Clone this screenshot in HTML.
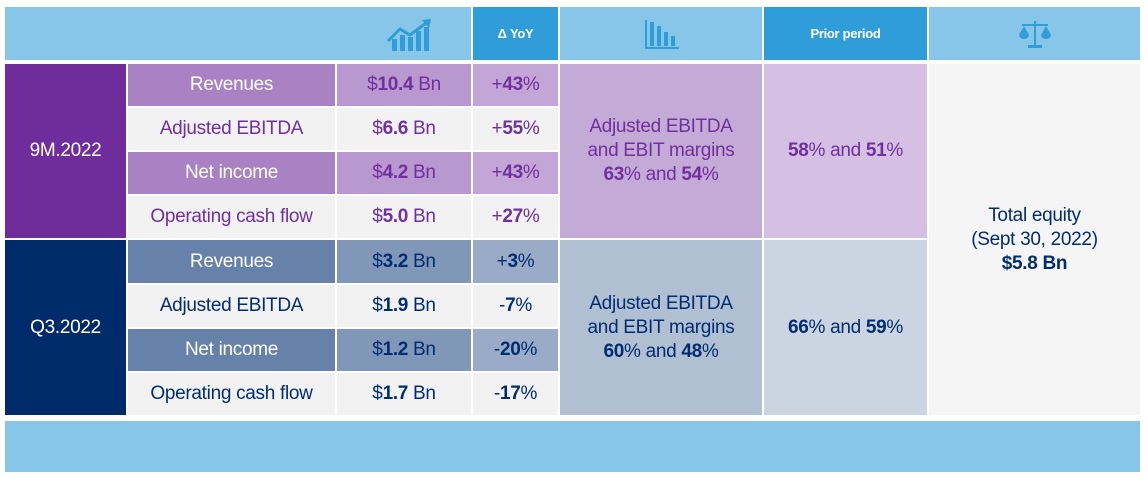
<!DOCTYPE html>
<html><head><meta charset="utf-8"><style>
body{margin:0;width:1148px;height:483px;background:#fff;position:relative;overflow:hidden;font-family:"Liberation Sans",sans-serif;}
.c{position:absolute;display:flex;align-items:center;justify-content:center;text-align:center;box-sizing:border-box;font-size:19px;line-height:24px;letter-spacing:-0.3px}
.p{color:#7030a0}.n{color:#002d72}.w{color:#fff}
b{font-weight:700}
</style></head><body>
<!-- header -->
<div class="c" style="left:5px;top:7px;width:466px;height:53px;background:#88c6e9"></div>
<div class="c" style="left:385px;top:18px;width:48px;height:34px">
<svg width="46" height="32" viewBox="0 0 46 32"><g fill="#2e9dd8"><rect x="6" y="20" width="5" height="12"/><rect x="14" y="16" width="5" height="16"/><rect x="22" y="18" width="5" height="14"/><rect x="30" y="12" width="5" height="20"/><rect x="38" y="8" width="5" height="24"/></g><polyline points="2,22 14,10 24,16 40,4" fill="none" stroke="#2e9dd8" stroke-width="3"/><polygon points="36,1 45,0 43,9" fill="#2e9dd8"/></svg></div>
<div class="c w" style="left:473px;top:7px;width:85px;height:53px;background:#2e9dd8;font-size:13px;font-weight:700"><div>Δ YoY</div></div>
<div class="c" style="left:560px;top:7px;width:202px;height:53px;background:#88c6e9">
<svg width="36" height="32" viewBox="0 0 36 32"><g fill="#2e9dd8"><rect x="2" y="2" width="2" height="28"/><rect x="2" y="29" width="34" height="2"/><rect x="7" y="4" width="4" height="24"/><rect x="14" y="8" width="4" height="20"/><rect x="21" y="14" width="4" height="14"/><rect x="28" y="18" width="4" height="10"/></g></svg></div>
<div class="c w" style="left:764px;top:7px;width:163px;height:53px;background:#2e9dd8;font-size:13px;font-weight:700"><div>Prior period</div></div>
<div class="c" style="left:929px;top:7px;width:211px;height:53px;background:#88c6e9">
<svg width="34" height="30" viewBox="0 0 34 30"><g fill="#2e9dd8"><rect x="16" y="2" width="2" height="24"/><rect x="4" y="5" width="26" height="2"/><rect x="10" y="26" width="14" height="3"/><path d="M1 16 L6 7 L11 16 Z"/><path d="M23 16 L28 7 L33 16 Z"/><path d="M1 16 A5 4 0 0 0 11 16Z"/><path d="M23 16 A5 4 0 0 0 33 16Z"/></g></svg></div>

<!-- 9M -->
<div class="c w" style="left:5px;top:64px;width:121px;height:174px;background:#6f2d9b"><div>9M.2022</div></div>
<div class="c w" style="left:128px;top:64px;width:207px;height:42px;background:#a882c3"><div>Revenues</div></div>
<div class="c p" style="left:337px;top:64px;width:134px;height:42px;background:#b898cf"><div>$<b>10.4</b> Bn</div></div>
<div class="c p" style="left:473px;top:64px;width:85px;height:42px;background:#c4a6d6"><div>+<b>43</b>%</div></div>
<div class="c p" style="left:128px;top:108px;width:207px;height:42px;background:#f2f2f2"><div>Adjusted EBITDA</div></div>
<div class="c p" style="left:337px;top:108px;width:134px;height:42px;background:#f2f2f2"><div>$<b>6.6</b> Bn</div></div>
<div class="c p" style="left:473px;top:108px;width:85px;height:42px;background:#f2f2f2"><div>+<b>55</b>%</div></div>
<div class="c w" style="left:128px;top:152px;width:207px;height:42px;background:#a882c3"><div>Net income</div></div>
<div class="c p" style="left:337px;top:152px;width:134px;height:42px;background:#b898cf"><div>$<b>4.2</b> Bn</div></div>
<div class="c p" style="left:473px;top:152px;width:85px;height:42px;background:#c4a6d6"><div>+<b>43</b>%</div></div>
<div class="c p" style="left:128px;top:196px;width:207px;height:42px;background:#f2f2f2"><div>Operating cash flow</div></div>
<div class="c p" style="left:337px;top:196px;width:134px;height:42px;background:#f2f2f2"><div>$<b>5.0</b> Bn</div></div>
<div class="c p" style="left:473px;top:196px;width:85px;height:42px;background:#f2f2f2"><div>+<b>27</b>%</div></div>
<div class="c p" style="left:560px;top:64px;width:202px;height:174px;background:#c4aad6"><div>Adjusted EBITDA<br>and EBIT margins<br><b>63</b>% and <b>54</b>%</div></div>
<div class="c p" style="left:764px;top:64px;width:163px;height:174px;background:#d5c0e3"><div><b>58</b>% and <b>51</b>%</div></div>

<!-- Q3 -->
<div class="c w" style="left:5px;top:240px;width:121px;height:175px;background:#002b6b"><div>Q3.2022</div></div>
<div class="c w" style="left:128px;top:240px;width:207px;height:43px;background:#6782aa"><div>Revenues</div></div>
<div class="c n" style="left:337px;top:240px;width:134px;height:43px;background:#8197b8"><div>$<b>3.2</b> Bn</div></div>
<div class="c n" style="left:473px;top:240px;width:85px;height:43px;background:#9aabc7"><div>+<b>3</b>%</div></div>
<div class="c n" style="left:128px;top:285px;width:207px;height:42px;background:#f2f2f2"><div>Adjusted EBITDA</div></div>
<div class="c n" style="left:337px;top:285px;width:134px;height:42px;background:#f2f2f2"><div>$<b>1.9</b> Bn</div></div>
<div class="c n" style="left:473px;top:285px;width:85px;height:42px;background:#f2f2f2"><div>-<b>7</b>%</div></div>
<div class="c w" style="left:128px;top:329px;width:207px;height:42px;background:#6782aa"><div>Net income</div></div>
<div class="c n" style="left:337px;top:329px;width:134px;height:42px;background:#8197b8"><div>$<b>1.2</b> Bn</div></div>
<div class="c n" style="left:473px;top:329px;width:85px;height:42px;background:#9aabc7"><div>-<b>20</b>%</div></div>
<div class="c n" style="left:128px;top:373px;width:207px;height:42px;background:#f2f2f2"><div>Operating cash flow</div></div>
<div class="c n" style="left:337px;top:373px;width:134px;height:42px;background:#f2f2f2"><div>$<b>1.7</b> Bn</div></div>
<div class="c n" style="left:473px;top:373px;width:85px;height:42px;background:#f2f2f2"><div>-<b>17</b>%</div></div>
<div class="c n" style="left:560px;top:240px;width:202px;height:175px;background:#b1bfd3"><div>Adjusted EBITDA<br>and EBIT margins<br><b>60</b>% and <b>48</b>%</div></div>
<div class="c n" style="left:764px;top:240px;width:163px;height:175px;background:#cbd5e1"><div><b>66</b>% and <b>59</b>%</div></div>

<div class="c n" style="left:929px;top:64px;width:211px;height:351px;background:#f5f5f5"><div>Total equity<br>(Sept 30, 2022)<br><b>$5.8 Bn</b></div></div>
<div class="c" style="left:5px;top:421px;width:1135px;height:51px;background:#88c6e9"></div>
</body></html>
